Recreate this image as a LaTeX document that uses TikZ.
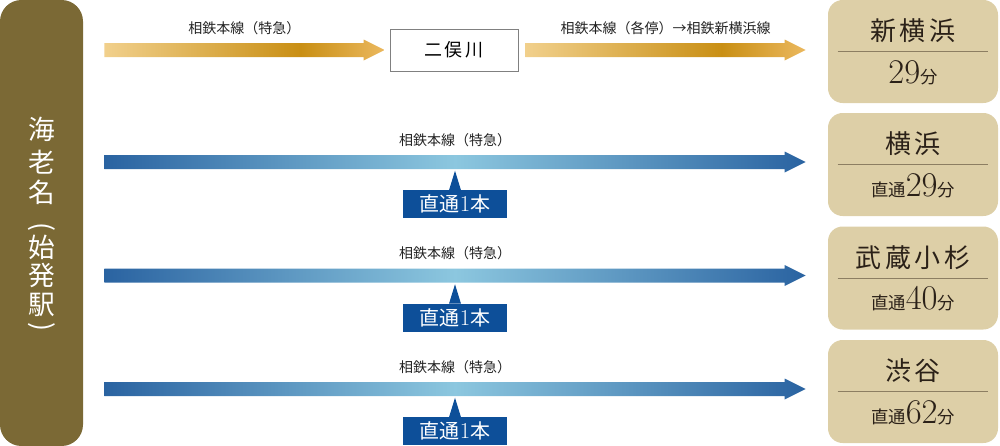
\documentclass[tikz,border=0pt]{standalone}
\usepackage{fontspec}
\newfontfamily\cjk{Noto Sans CJK JP}
\newfontfamily\cjkwide{Noto Sans CJK JP}[LetterSpace=15]
\usetikzlibrary{calc}

\definecolor{ebinaolive}{HTML}{7B6935}
\definecolor{destbeige}{HTML}{DDCFA7}
\definecolor{destink}{HTML}{2B2118}
\definecolor{destrulec}{HTML}{8C7E62}
\definecolor{calloutblue}{HTML}{0D4F99}
\definecolor{bluedark}{HTML}{2A63A1}
\definecolor{bluelight}{HTML}{8CC7DF}
\definecolor{goldlight}{HTML}{F1D08C}
\definecolor{golddark}{HTML}{C98F14}
\definecolor{goldtip}{HTML}{EBB85E}
\definecolor{labelink}{HTML}{222222}

\pgfdeclarehorizontalshading{goldshade}{100bp}{color(0bp)=(goldlight); color(25bp)=(goldlight); color(60bp)=(golddark); color(75bp)=(goldtip); color(100bp)=(goldtip)}
\pgfdeclarehorizontalshading{blueshade}{100bp}{color(0bp)=(bluedark); color(25bp)=(bluedark); color(50bp)=(bluelight); color(75bp)=(bluedark); color(100bp)=(bluedark)}

\newcommand\pxu{0.75pt}
\newcommand\smallcjk{\cjk\fontsize{13}{14}\selectfont}
% shaded arrow: shading, start, tip
\newcommand\railarrow[3]{%
  \shade[shading=#1] ($(#2)+(0,-7)$) -- ($(#3)+(-21,-7)$) -- ($(#3)+(-21,-10.5)$) -- (#3)
    -- ($(#3)+(-21,10.5)$) -- ($(#3)+(-21,7)$) -- ($(#2)+(0,7)$) -- cycle;}

\tikzset{
every picture/.style={
x=0.75pt, y=-0.75pt
},
ebinabox/.style={fill=ebinaolive, rounded corners=16pt, inner sep=0pt,
  minimum width=83*\pxu, minimum height=446*\pxu},
ebinatext/.style={text=white, inner sep=0pt, font=\cjk\fontsize{20}{22}\selectfont},
railtext/.style={text=labelink, inner sep=0pt, font=\cjk\fontsize{10.5}{12}\selectfont},
transferbox/.style={draw=gray, line width=0.6pt, fill=white,
  minimum width=128*\pxu, minimum height=42*\pxu, font=\cjkwide\fontsize{13.5}{15}\selectfont},
destbox/.style={fill=destbeige, rounded corners=11pt, inner sep=0pt,
  minimum width=170*\pxu, minimum height=103*\pxu},
destname/.style={text=destink, inner sep=0pt, font=\cjkwide\fontsize{19.5}{22}\selectfont},
desttime/.style={text=destink, inner sep=0pt, anchor=base, font=\fontsize{26}{28}\selectfont},
destrule/.style={draw=destrulec, line width=0.6pt},
callbox/.style={fill=calloutblue, text=white, inner sep=0pt,
  minimum width=104*\pxu, minimum height=28*\pxu, font=\cjk\fontsize{15}{17}\selectfont}
}

\begin{document}
\begin{tikzpicture}
\useasboundingbox (0,0) rectangle (1000,446);

\node[ebinabox] (ebina) at (41.5,223) {};
\foreach \c/\y/\r [count=\i] in {海/130/0, 老/162/0, 名/193/0, {(}/227/-90, 始/248/0, 発/276/0, 駅/305/0, {)}/327/-90}{
  \node[ebinatext, rotate=\r] (e\i) at ($(ebina.north)+(0,\y)$) {\c};
}

% destinations
\foreach \ttl/\pre/\mins/\y [count=\i] in {新横浜//29/51.5, 横浜/直通/29/164.5, 武蔵小杉/直通/40/278, 渋谷/直通/62/391.5}{
  \node[destbox] (dest\i) at (913,\y) {};
  \node[destname] (n\i) at ($(dest\i.center)+(0,-20.5)$) {\ttl};
  \node[desttime] (m\i) at ($(dest\i.center)+(0,31.5)$) {{\smallcjk\pre}\mins{\smallcjk 分}};
  \draw[destrule] ($(dest\i.west)+(10,0)$) -- ($(dest\i.east)+(-10,0)$);
}

% via futamatagawa
\node[transferbox] (futamata) at (454,50) {二俣川};
\coordinate (t1) at ($(futamata.west)+(-5,0)$);
\coordinate (s1) at ($(ebina.east |- t1)+(21,0)$);
\coordinate (s0) at ($(futamata.east)+(7,0)$);
\coordinate (t0) at ($(s0 -| dest1.west)+(-22,0)$);
\railarrow{goldshade}{s1}{t1}
\railarrow{goldshade}{s0}{t0}
\node[railtext] (gl1) at ($(s1)!0.5!(t1)+(0,-22)$) {相鉄本線（特急）};
\node[railtext] (gl0) at ($(s0)!0.5!(t0)+(0,-22)$) {相鉄本線（各停）→相鉄新横浜線};

% direct trains
\foreach \i in {2,3,4}{
  \coordinate (t\i) at ($(dest\i.west)+(-22,-2.5)$);
  \coordinate (s\i) at ($(ebina.east |- t\i)+(21,0)$);
  \railarrow{blueshade}{s\i}{t\i}
  \node[railtext] (bl\i) at ($(s\i)!0.5!(t\i)+(0,-22)$) {相鉄本線（特急）};
  \node[callbox] (c\i) at ($(s\i)!0.5!(t\i)+(0,42)$) {直通{\rmfamily\fontsize{17}{17}\selectfont 1}本};
  \fill[calloutblue] ($(c\i.north)+(-6,0.5)$) -- ($(c\i.north)+(0,-19)$) -- ($(c\i.north)+(6,0.5)$) -- cycle;
}
\end{tikzpicture}
\end{document}
